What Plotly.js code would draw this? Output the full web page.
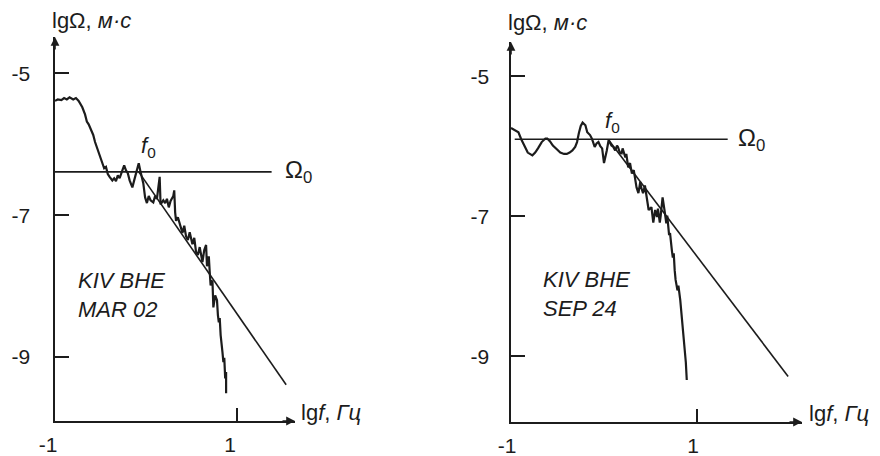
<!DOCTYPE html>
<html>
<head>
<meta charset="utf-8">
<script src="https://cdn.plot.ly/plotly-3.0.1.min.js"></script>
<style>html,body{margin:0;padding:0;background:#fff;}#chart{width:880px;height:456px;}</style>
</head>
<body>
<div id="chart"></div>
<script>
// ---- Left panel: KIV BHE MAR 02 ----
const marLgf = [-1.00,-0.97,-0.93,-0.90,-0.87,-0.84,-0.80,-0.77,-0.74,-0.70,-0.67,-0.65,-0.63,-0.60,-0.58,-0.56,-0.53,-0.51,-0.48,-0.46,-0.44,-0.42,-0.40,-0.37,-0.35,-0.33,-0.31,-0.29,-0.26,-0.24,-0.22,-0.20,-0.18,-0.15,-0.13,-0.11,-0.08,-0.06,-0.03,-0.01,0.01,0.03,0.05,0.08,0.10,0.12,0.14,0.15,0.16,0.19,0.21,0.23,0.25,0.27,0.30,0.31,0.32,0.33,0.35,0.37,0.40,0.42,0.44,0.46,0.48,0.51,0.53,0.55,0.57,0.59,0.62,0.64,0.66,0.67,0.69,0.70,0.71,0.73,0.74,0.76,0.78,0.79,0.80,0.81,0.82,0.84,0.85,0.86,0.87,0.88,0.88];
const marLgOmega = [-5.39,-5.37,-5.38,-5.35,-5.37,-5.34,-5.37,-5.35,-5.39,-5.48,-5.58,-5.68,-5.72,-5.82,-5.87,-5.97,-6.08,-6.18,-6.27,-6.34,-6.32,-6.42,-6.46,-6.51,-6.48,-6.52,-6.44,-6.48,-6.37,-6.30,-6.37,-6.41,-6.51,-6.61,-6.51,-6.41,-6.27,-6.39,-6.55,-6.75,-6.83,-6.73,-6.79,-6.82,-6.73,-6.77,-6.58,-6.46,-6.85,-6.79,-6.83,-6.77,-6.89,-6.80,-6.73,-6.65,-6.96,-7.08,-7.03,-7.13,-7.25,-7.15,-7.30,-7.35,-7.24,-7.41,-7.32,-7.52,-7.56,-7.45,-7.66,-7.49,-7.42,-7.72,-7.58,-7.80,-7.99,-7.92,-8.30,-8.13,-8.20,-8.41,-8.51,-8.45,-8.69,-8.93,-9.07,-9.01,-9.30,-9.21,-9.51];
const marOmega0Lgf = [-1.00, 1.38];
const marOmega0Val = [-6.39, -6.39];
const marSlopeLgf = [-0.08, 1.54];
const marSlopeVal = [-6.39, -9.39];

// ---- Right panel: KIV BHE SEP 24 ----
const sepLgf = [-1.00,-0.96,-0.92,-0.89,-0.85,-0.82,-0.77,-0.74,-0.71,-0.67,-0.63,-0.61,-0.58,-0.55,-0.51,-0.47,-0.43,-0.40,-0.37,-0.34,-0.31,-0.29,-0.27,-0.25,-0.23,-0.20,-0.18,-0.16,-0.15,-0.13,-0.11,-0.10,-0.08,-0.06,-0.04,-0.02,0.00,0.02,0.03,0.05,0.08,0.10,0.12,0.14,0.15,0.17,0.19,0.20,0.23,0.24,0.26,0.28,0.30,0.32,0.34,0.35,0.37,0.39,0.40,0.42,0.44,0.46,0.48,0.51,0.53,0.55,0.57,0.58,0.60,0.61,0.63,0.65,0.67,0.68,0.69,0.70,0.71,0.72,0.73,0.74,0.75,0.76,0.77,0.79,0.80,0.82,0.83,0.84,0.85,0.86,0.87,0.88,0.89];
const sepLgOmega = [-5.74,-5.77,-5.80,-5.90,-6.01,-6.09,-6.13,-6.09,-6.03,-5.94,-5.89,-5.89,-5.93,-5.99,-6.04,-6.09,-6.11,-6.11,-6.09,-6.06,-6.01,-5.94,-5.81,-5.71,-5.66,-5.70,-5.80,-5.83,-5.84,-5.89,-5.97,-6.01,-5.96,-5.94,-6.00,-6.03,-6.24,-6.13,-6.06,-5.91,-5.99,-6.01,-6.06,-5.99,-6.01,-6.09,-6.10,-6.03,-6.16,-6.11,-6.30,-6.24,-6.39,-6.34,-6.53,-6.59,-6.67,-6.51,-6.59,-6.67,-6.56,-6.77,-6.91,-6.87,-7.09,-6.91,-7.01,-6.89,-7.09,-6.99,-6.73,-6.91,-7.10,-6.99,-7.17,-7.27,-7.24,-7.41,-7.49,-7.59,-7.53,-7.77,-7.91,-8.06,-7.99,-8.20,-8.34,-8.49,-8.59,-8.77,-8.87,-9.09,-9.34];
const sepOmega0Lgf = [-0.96, 1.33];
const sepOmega0Val = [-5.90, -5.90];
const sepSlopeLgf = [0.05, 1.98];
const sepSlopeVal = [-5.91, -9.29];

// ---- Ticks and texts ----
const xTickVals = [-1, 1];
const xTickText = ['-1', '1'];
const yTickVals = [-5, -7, -9];
const yTickText = ['-5', '-7', '-9'];
const yTitle = 'lgΩ, <i>м·с</i>';
const xTitle = 'lg<i>f</i>, <i>Гц</i>';
const f0Label = '<i>f</i><sub>0</sub>';
const omega0Label = 'Ω<sub>0</sub>';
const marLabel = '<i>KIV BHE<br>MAR 02</i>';
const sepLabel = '<i>KIV BHE<br>SEP 24</i>';

const INK = '#1c1c1c';
const FONT = 'Liberation Sans, Arial, sans-serif';

function line(x, y, xa, ya, w) {
  return {x: x, y: y, xaxis: xa, yaxis: ya, type: 'scatter', mode: 'lines',
          line: {color: INK, width: w}, hoverinfo: 'skip', showlegend: false};
}

const data = [
  line(marOmega0Lgf, marOmega0Val, 'x', 'y', 1.6),
  line(marSlopeLgf, marSlopeVal, 'x', 'y', 1.6),
  line(marLgf, marLgOmega, 'x', 'y', 2.2),
  line(sepOmega0Lgf, sepOmega0Val, 'x2', 'y2', 1.6),
  line(sepSlopeLgf, sepSlopeVal, 'x2', 'y2', 1.6),
  line(sepLgf, sepLgOmega, 'x2', 'y2', 2.2)
];

const xRangeL = [-1, 1.637];
const yRangeL = [-9.90, -4.49];
const xRangeR = [-1, 2.129];
const yRangeR = [-9.94, -4.51];

function xAxis(domain, range, anchor, shift) {
  return {domain: domain, range: range, anchor: anchor, showline: true, linecolor: INK, linewidth: 1.6,
          showgrid: false, zeroline: false, tickmode: 'array', tickvals: xTickVals, ticktext: xTickText,
          ticks: 'inside', ticklen: 13, tickwidth: 1.6, tickcolor: INK,
          ticklabelstandoff: 4, ticklabelshift: shift,
          tickfont: {family: FONT, size: 21, color: INK}, fixedrange: true};
}
function yAxis(domain, range, anchor, standoff) {
  return {domain: domain, range: range, anchor: anchor, showline: true, linecolor: INK, linewidth: 1.6,
          showgrid: false, zeroline: false, tickmode: 'array', tickvals: yTickVals, ticktext: yTickText,
          ticks: 'inside', ticklen: 14, tickwidth: 1.6, tickcolor: INK,
          ticklabelstandoff: standoff,
          tickfont: {family: FONT, size: 21, color: INK}, fixedrange: true};
}

function txt(text, xref, yref, x, y, xanchor, yanchor, size, xshift, yshift) {
  return {text: text, xref: xref, yref: yref, x: x, y: y, xanchor: xanchor, yanchor: yanchor,
          xshift: xshift || 0, yshift: yshift || 0,
          showarrow: false, font: {family: FONT, size: size || 22, color: INK}, align: 'left'};
}
function arrow(xref, yref, x, y, ax, ay) {
  return {text: '', xref: xref, yref: yref, x: x, y: y, ax: ax, ay: ay, axref: 'pixel', ayref: 'pixel',
          showarrow: true, arrowhead: 2, arrowsize: 1.1, arrowwidth: 1.6, arrowcolor: INK};
}

const W = 880, H = 456;
const annotations = [
  // axis titles
  txt(yTitle, 'paper', 'paper', 50 / W, 1 - 21 / H, 'left', 'middle'),
  txt(yTitle, 'paper', 'paper', 506 / W, 1 - 22 / H, 'left', 'middle'),
  txt(xTitle, 'paper', 'paper', 299 / W, 1 - 412 / H, 'left', 'middle'),
  txt(xTitle, 'paper', 'paper', 807 / W, 1 - 413 / H, 'left', 'middle'),
  // f0 and Omega0 labels
  txt(f0Label, 'x', 'y', marSlopeLgf[0], marSlopeVal[0], 'left', 'bottom', 22, 0, 9),
  txt(omega0Label, 'x', 'y', marOmega0Lgf[1], marOmega0Val[1], 'left', 'middle', 24, 11, 0),
  txt(f0Label, 'x2', 'y2', sepSlopeLgf[0], sepSlopeVal[0], 'left', 'bottom', 22, -6, 2),
  txt(omega0Label, 'x2', 'y2', sepOmega0Lgf[1], sepOmega0Val[1], 'left', 'middle', 24, 8, 0),
  // station labels
  txt(marLabel, 'paper', 'paper', 76 / W, 1 - 295 / H, 'left', 'middle'),
  txt(sepLabel, 'paper', 'paper', 541 / W, 1 - 294 / H, 'left', 'middle'),
  // axis arrows
  arrow('x', 'y', xRangeL[1], yRangeL[0], -14, 0),
  arrow('x', 'y', xRangeL[0], yRangeL[1], 0, 14),
  arrow('x2', 'y2', xRangeR[1], yRangeR[0], -14, 0),
  arrow('x2', 'y2', xRangeR[0], yRangeR[1], 0, 14)
];

const layout = {
  width: W, height: H,
  margin: {l: 0, r: 0, t: 0, b: 0},
  paper_bgcolor: '#fff', plot_bgcolor: 'rgba(0,0,0,0)',
  showlegend: false,
  font: {family: FONT, color: INK},
  xaxis: xAxis([55 / W, 295 / W], xRangeL, 'y', -7),
  yaxis: yAxis([1 - 421 / H, 1 - 37 / H], yRangeL, 'x', 19),
  xaxis2: xAxis([511 / W, 802 / W], xRangeR, 'y2', -4),
  yaxis2: yAxis([1 - 422 / H, 1 - 42 / H], yRangeR, 'x2', 16),
  annotations: annotations
};

Plotly.newPlot('chart', data, layout, {staticPlot: true, displayModeBar: false});
</script>
</body>
</html>
